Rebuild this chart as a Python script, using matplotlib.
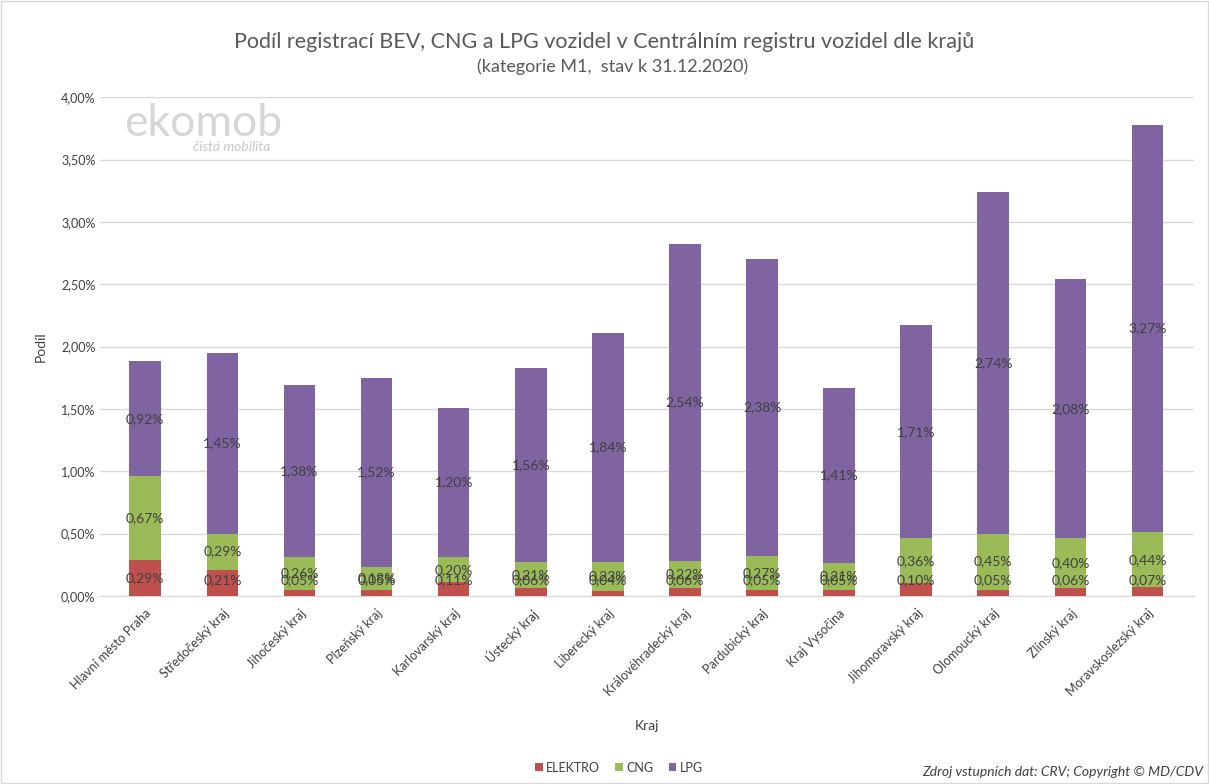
import matplotlib.pyplot as plt
from matplotlib.ticker import FuncFormatter
from matplotlib.patches import Rectangle
import numpy as np

plt.rcParams['font.family'] = ['Lato', 'DejaVu Sans']

kraje = ["Hlavní město Praha", "Středočeský kraj", "Jihočeský kraj", "Plzeňský kraj",
         "Karlovarský kraj", "Ústecký kraj", "Liberecký kraj", "Královéhradecký kraj",
         "Pardubický kraj", "Kraj Vysočina", "Jihomoravský kraj", "Olomoucký kraj",
         "Zlínský kraj", "Moravskoslezský kraj"]
elektro = [0.29, 0.21, 0.05, 0.05, 0.11, 0.06, 0.04, 0.06, 0.05, 0.05, 0.10, 0.05, 0.06, 0.07]
cng = [0.67, 0.29, 0.26, 0.18, 0.20, 0.21, 0.23, 0.22, 0.27, 0.21, 0.36, 0.45, 0.40, 0.44]
lpg = [0.92, 1.45, 1.38, 1.52, 1.20, 1.56, 1.84, 2.54, 2.38, 1.41, 1.71, 2.74, 2.08, 3.27]

colors = {"ELEKTRO": "#C0504D", "CNG": "#9BBB59", "LPG": "#8064A2"}
text_col = "#404040"

fig = plt.figure(figsize=(12.09, 7.84), dpi=100)
ax = fig.add_axes([0.083, 0.240, 0.905, 0.636])

x = np.arange(len(kraje))
e = np.array(elektro)
c = np.array(cng)
l = np.array(lpg)
w = 0.41

series = [("ELEKTRO", e, np.zeros_like(e)), ("CNG", c, e), ("LPG", l, e + c)]
for name, vals, bottom in series:
    ax.bar(x, vals, w, bottom=bottom, color=colors[name], label=name, zorder=3)
    for xi, v, b in zip(x, vals, bottom):
        # Excel keeps the label inside the plot area, so tiny segments get lifted
        ypos = max(b + v / 2, 0.128)
        ax.text(xi, ypos, f"{v:.2f}%".replace(".", ","), ha="center", va="center",
                fontsize=10, color=text_col, zorder=4)

ax.set_ylim(0, 4.0)
ax.set_xlim(-0.583, 13.61)
ax.set_yticks(np.arange(0, 4.01, 0.5))
ax.yaxis.set_major_formatter(FuncFormatter(lambda v, p: f"{v:.2f}%".replace(".", ",")))
ax.grid(axis="y", color="#d9d9d9", linewidth=1, zorder=0)
for s in ["top", "right", "left"]:
    ax.spines[s].set_visible(False)
ax.spines["bottom"].set_color("#d9d9d9")
ax.tick_params(axis="both", length=0, labelsize=9, colors=text_col)
ax.set_xticks(x)
ax.set_xticklabels(kraje, rotation=45, ha="right", rotation_mode="anchor")
ax.tick_params(axis="x", pad=8)

ax.set_ylabel("Podíl", fontsize=10, color=text_col, labelpad=10)
ax.set_xlabel("Kraj", fontsize=10, color=text_col, labelpad=16)

fig.text(0.5, 0.946, "Podíl registrací BEV, CNG a LPG vozidel v Centrálním registru vozidel dle krajů",
         ha="center", va="center", fontsize=15.5, color="#595959")
fig.text(0.507, 0.915, "(kategorie M1,  stav k 31.12.2020)", ha="center", va="center",
         fontsize=13, color="#595959")

# ekomob watermark
fig.text(0.103, 0.843, "ekomob", ha="left", va="center", fontsize=32, color="#d6d6d6")
fig.text(0.160, 0.812, "čistá mobilita", ha="left", va="center", fontsize=10,
         color="#c8c8c8", style="italic")

leg = fig.legend(loc="center", bbox_to_anchor=(0.512, 0.021), ncol=3, frameon=False,
                 fontsize=9, handlelength=0.6, handleheight=0.6, handletextpad=0.3,
                 columnspacing=1.2)
for t in leg.get_texts():
    t.set_color(text_col)

fig.text(0.995, 0.015, "Zdroj vstupních dat: CRV; Copyright © MD/CDV", ha="right", va="center",
         fontsize=10, color="#404040", style="italic")

fig.patches.append(Rectangle((0.001, 0.001), 0.998, 0.998, transform=fig.transFigure,
                             fill=False, edgecolor="#d9d9d9", linewidth=1))

fig.savefig("out.png", dpi=100)
